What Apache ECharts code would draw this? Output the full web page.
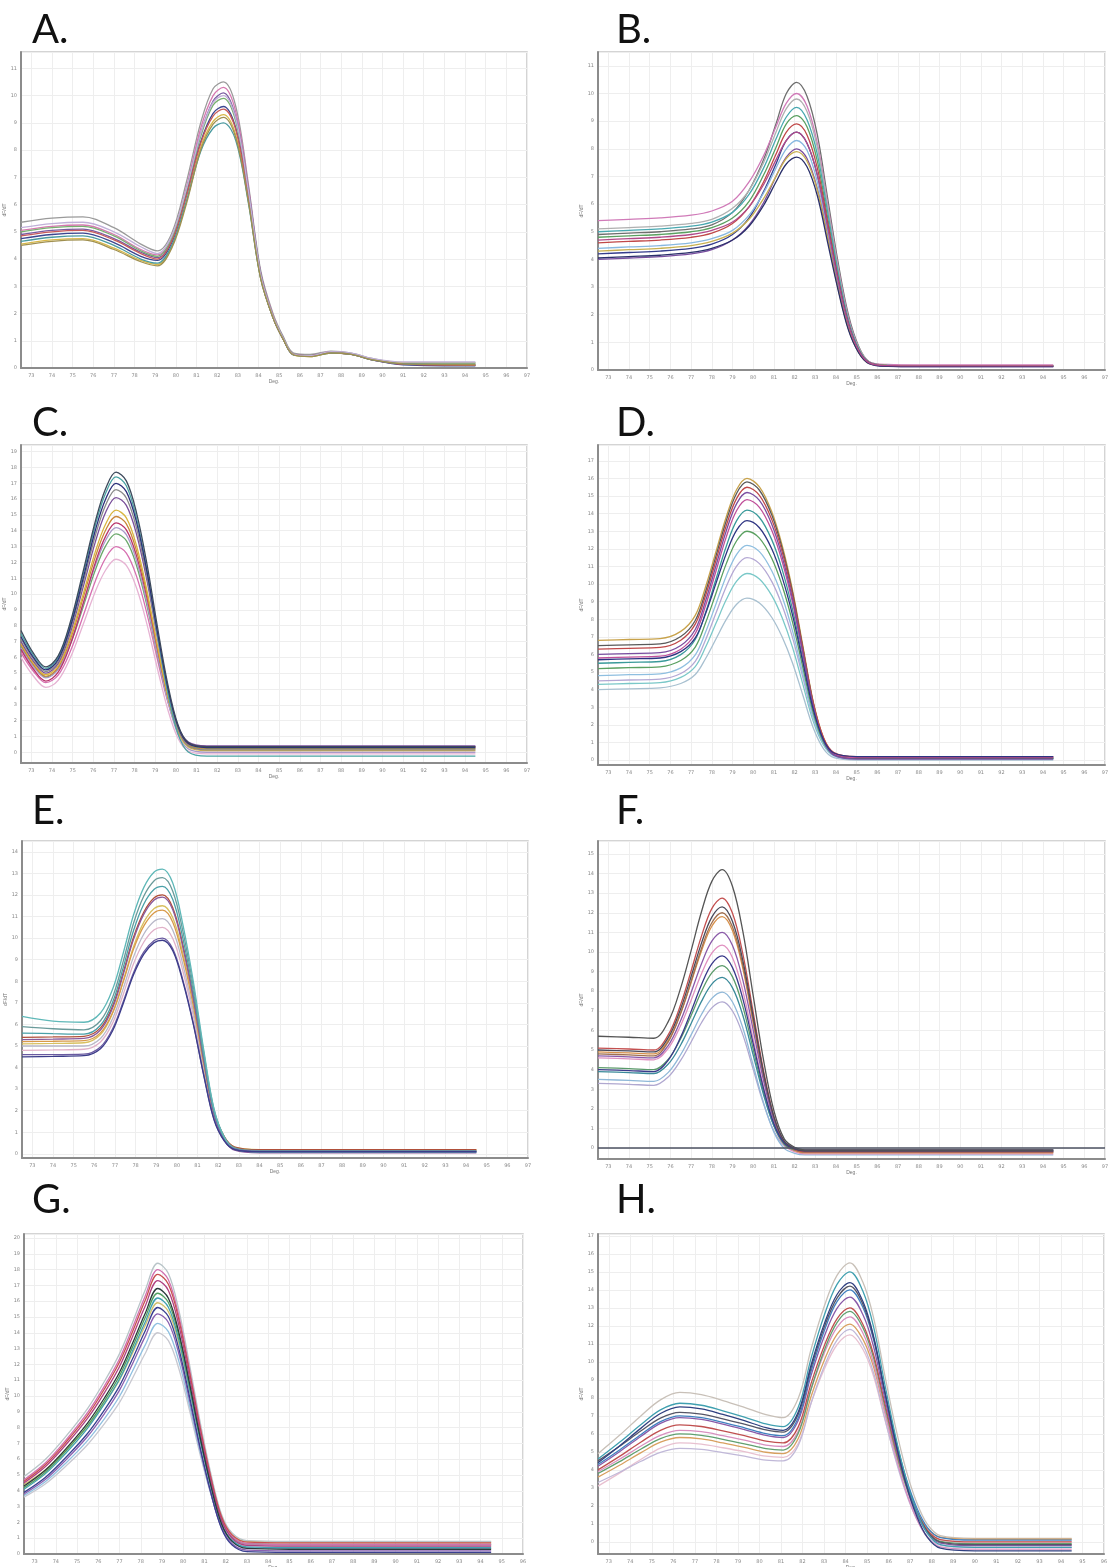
<!DOCTYPE html>
<html>
<head>
<meta charset="utf-8">
<script src="https://cdn.jsdelivr.net/npm/echarts@6/dist/echarts.min.js"></script>
<style>
  html, body { margin: 0; padding: 0; background: #fff; }
  #main { width: 1109px; height: 1567px; }
</style>
</head>
<body>
<div id="main"></div>
<script>
// melt curve panels A-H (dF/dT vs Deg.)
const panelNames = ['A.', 'B.', 'C.', 'D.', 'E.', 'F.', 'G.', 'H.'];

// ---- A ----
const tempsA = [72.5, 74, 75.5, 77, 78.3, 79.1, 79.8, 80.5, 81.2, 81.8, 82.3, 82.9, 83.5, 84.1, 84.7, 85.2, 85.7, 86.5, 87.5, 88.5, 89.5, 91, 94.5];
const curvesA = [
  [5.35, 5.5, 5.55, 5.15, 4.55, 4.3, 4.95, 6.8, 9.0, 10.25, 10.5, 9.6, 6.8, 3.6, 2.0, 1.15, 0.55, 0.5, 0.62, 0.55, 0.35, 0.18, 0.15],
  [5.05, 5.2, 5.25, 4.9, 4.35, 4.15, 4.8, 6.6, 8.8, 10.0, 10.3, 9.4, 6.7, 3.5, 1.95, 1.1, 0.5, 0.45, 0.6, 0.52, 0.32, 0.15, 0.12],
  [4.9, 5.05, 5.1, 4.75, 4.25, 4.05, 4.7, 6.5, 8.6, 9.8, 10.1, 9.2, 6.6, 3.5, 1.9, 1.1, 0.5, 0.45, 0.58, 0.52, 0.3, 0.14, 0.1],
  [5.0, 5.15, 5.2, 4.85, 4.3, 4.1, 4.75, 6.45, 8.5, 9.65, 9.9, 9.05, 6.5, 3.45, 1.9, 1.1, 0.5, 0.45, 0.58, 0.52, 0.32, 0.2, 0.2],
  [4.75, 4.9, 4.95, 4.6, 4.1, 3.95, 4.6, 6.3, 8.3, 9.35, 9.6, 8.8, 6.3, 3.35, 1.85, 1.05, 0.48, 0.45, 0.56, 0.5, 0.3, 0.12, 0.08],
  [4.55, 4.7, 4.75, 4.4, 3.95, 3.8, 4.45, 6.1, 8.1, 9.05, 9.3, 8.55, 6.2, 3.3, 1.85, 1.05, 0.48, 0.42, 0.55, 0.5, 0.32, 0.2, 0.18],
  [4.85, 5.0, 5.05, 4.7, 4.2, 4.0, 4.65, 6.3, 8.25, 9.25, 9.5, 8.75, 6.3, 3.35, 1.85, 1.05, 0.5, 0.45, 0.56, 0.5, 0.3, 0.14, 0.1],
  [4.65, 4.8, 4.85, 4.5, 4.0, 3.85, 4.5, 6.1, 7.95, 8.8, 9.0, 8.35, 6.1, 3.3, 1.85, 1.05, 0.48, 0.43, 0.55, 0.5, 0.3, 0.16, 0.14],
  [5.15, 5.3, 5.35, 5.0, 4.45, 4.2, 4.85, 6.55, 8.6, 9.75, 10.0, 9.15, 6.55, 3.45, 1.9, 1.1, 0.5, 0.45, 0.6, 0.55, 0.35, 0.22, 0.22],
  [4.5, 4.65, 4.7, 4.35, 3.9, 3.75, 4.4, 6.0, 8.0, 8.95, 9.2, 8.45, 6.15, 3.3, 1.85, 1.05, 0.48, 0.42, 0.55, 0.5, 0.3, 0.15, 0.12]
];
const colorsA = ['#9a9a9a', '#d678b0', '#7a5aa0', '#78b070', '#3c4690', '#d8b848', '#c85a5a', '#4a9aa0', '#c0b0d8', '#a09050'];

// ---- B ----
const tempsB = [72.5, 74, 75.5, 77, 78, 79, 79.8, 80.5, 81.1, 81.6, 82.1, 82.6, 83.1, 83.6, 84.1, 84.6, 85.1, 85.6, 86.5, 88, 91, 94.5];
const curvesB = [
  [4.9, 4.95, 5.0, 5.1, 5.25, 5.7, 6.5, 7.6, 8.9, 10.0, 10.4, 9.9, 8.5, 6.2, 3.9, 2.0, 0.85, 0.3, 0.18, 0.16, 0.16, 0.16],
  [5.4, 5.45, 5.5, 5.6, 5.75, 6.1, 6.8, 7.75, 8.8, 9.65, 10.0, 9.55, 8.2, 6.0, 3.75, 1.9, 0.8, 0.3, 0.2, 0.18, 0.18, 0.18],
  [5.1, 5.15, 5.2, 5.3, 5.45, 5.85, 6.5, 7.5, 8.6, 9.45, 9.8, 9.35, 8.05, 5.9, 3.7, 1.85, 0.8, 0.3, 0.17, 0.15, 0.15, 0.15],
  [4.8, 4.85, 4.9, 5.0, 5.15, 5.5, 6.1, 7.05, 8.05, 8.9, 9.2, 8.8, 7.55, 5.5, 3.45, 1.75, 0.75, 0.28, 0.16, 0.14, 0.14, 0.14],
  [5.0, 5.05, 5.1, 5.2, 5.35, 5.7, 6.35, 7.3, 8.35, 9.15, 9.5, 9.05, 7.8, 5.7, 3.55, 1.8, 0.75, 0.28, 0.17, 0.15, 0.15, 0.15],
  [4.6, 4.65, 4.7, 4.8, 4.95, 5.3, 5.9, 6.8, 7.8, 8.6, 8.9, 8.5, 7.3, 5.35, 3.35, 1.7, 0.7, 0.27, 0.16, 0.14, 0.14, 0.14],
  [4.2, 4.25, 4.3, 4.4, 4.55, 4.9, 5.5, 6.45, 7.45, 8.3, 8.6, 8.2, 7.05, 5.15, 3.25, 1.65, 0.7, 0.26, 0.15, 0.13, 0.13, 0.13],
  [4.4, 4.45, 4.5, 4.6, 4.75, 5.05, 5.6, 6.4, 7.3, 8.0, 8.3, 7.95, 6.8, 5.0, 3.1, 1.6, 0.66, 0.25, 0.16, 0.15, 0.15, 0.15],
  [4.0, 4.05, 4.1, 4.2, 4.35, 4.7, 5.25, 6.05, 7.0, 7.7, 8.0, 7.65, 6.55, 4.8, 3.0, 1.5, 0.64, 0.24, 0.14, 0.12, 0.12, 0.12],
  [4.3, 4.35, 4.4, 4.5, 4.65, 4.95, 5.45, 6.2, 7.0, 7.65, 7.9, 7.55, 6.5, 4.75, 2.95, 1.5, 0.63, 0.24, 0.16, 0.15, 0.15, 0.15],
  [4.05, 4.1, 4.15, 4.25, 4.4, 4.7, 5.2, 5.95, 6.8, 7.45, 7.7, 7.35, 6.3, 4.6, 2.9, 1.45, 0.62, 0.23, 0.13, 0.12, 0.12, 0.12],
  [4.7, 4.75, 4.8, 4.9, 5.05, 5.35, 5.9, 6.7, 7.6, 8.3, 8.6, 8.2, 7.05, 5.15, 3.25, 1.65, 0.7, 0.26, 0.16, 0.15, 0.15, 0.15]
];
const colorsB = ['#6e6e6e', '#d07ab8', '#b0b0b0', '#5aa060', '#48a8b0', '#c04848', '#343c8c', '#88b8e0', '#7a4ea0', '#c8b050', '#2a2f6a', '#b04a8a'];

// ---- C ----
const tempsC = [72.5, 73.1, 73.7, 74.3, 74.9, 75.5, 76.1, 76.6, 77.1, 77.6, 78.1, 78.6, 79.1, 79.6, 80.1, 80.6, 81.5, 83, 86, 90, 94.5];
const curvesC = [
  [6.0, 4.82, 4.1, 4.55, 6.0, 8.04, 10.16, 11.52, 12.2, 11.81, 10.36, 8.08, 5.31, 2.73, 0.88, 0.08, -0.1, -0.1, -0.1, -0.1, -0.1],
  [6.3, 5.12, 4.4, 4.88, 6.41, 8.58, 10.83, 12.28, 13.0, 12.59, 11.1, 8.75, 5.89, 3.22, 1.32, 0.49, 0.3, 0.3, 0.3, 0.3, 0.3],
  [6.7, 5.49, 4.75, 5.26, 6.87, 9.15, 11.52, 13.04, 13.8, 13.37, 11.77, 9.26, 6.21, 3.37, 1.33, 0.45, 0.25, 0.25, 0.25, 0.25, 0.25],
  [6.6, 5.42, 4.7, 5.23, 6.92, 9.32, 11.81, 13.4, 14.2, 13.75, 12.07, 9.44, 6.25, 3.27, 1.14, 0.21, 0, 0, 0, 0, 0],
  [6.5, 5.26, 4.5, 5.06, 6.84, 9.36, 11.98, 13.66, 14.5, 14.05, 12.38, 9.76, 6.58, 3.6, 1.48, 0.56, 0.35, 0.35, 0.35, 0.35, 0.35],
  [6.8, 5.56, 4.8, 5.37, 7.16, 9.71, 12.35, 14.05, 14.9, 14.43, 12.7, 9.98, 6.67, 3.58, 1.38, 0.42, 0.2, 0.2, 0.2, 0.2, 0.2],
  [6.9, 5.66, 4.9, 5.48, 7.33, 9.95, 12.68, 14.43, 15.3, 14.81, 13.02, 10.21, 6.79, 3.6, 1.32, 0.33, 0.1, 0.1, 0.1, 0.1, 0.1],
  [7.0, 5.76, 5.0, 5.62, 7.6, 10.39, 13.3, 15.17, 16.1, 15.6, 13.75, 10.84, 7.31, 4.01, 1.66, 0.64, 0.4, 0.4, 0.4, 0.4, 0.4],
  [7.2, 5.9, 5.1, 5.74, 7.79, 10.69, 13.7, 15.63, 16.6, 16.07, 14.13, 11.09, 7.39, 3.93, 1.47, 0.4, 0.15, 0.15, 0.15, 0.15, 0.15],
  [7.5, 6.14, 5.3, 5.98, 8.13, 11.18, 14.35, 16.38, 17.4, 16.84, 14.75, 11.49, 7.52, 3.81, 1.16, 0.01, -0.25, -0.25, -0.25, -0.25, -0.25],
  [7.3, 6.0, 5.2, 5.86, 7.96, 10.93, 14.03, 16.01, 17.0, 16.47, 14.5, 11.4, 7.65, 4.14, 1.64, 0.55, 0.3, 0.3, 0.3, 0.3, 0.3],
  [7.7, 6.27, 5.4, 6.09, 8.28, 11.38, 14.6, 16.67, 17.7, 17.15, 15.1, 11.89, 7.98, 4.34, 1.74, 0.61, 0.35, 0.35, 0.35, 0.35, 0.35]
];
const colorsC = ['#e6b3d3', '#d66fb0', '#6aa86a', '#a99ac9', '#b8336a', '#c9873a', '#d8b540', '#7a4f9a', '#8a8a8a', '#4aa3a3', '#2c2f7a', '#3d4a5c'];

// ---- D ----
const tempsD = [72.5, 74, 75.5, 76.5, 77.2, 77.7, 78.2, 78.7, 79.2, 79.7, 80.3, 80.9, 81.4, 81.9, 82.4, 82.9, 83.4, 83.9, 85, 88, 91, 94.5];
const curvesD = [
  [4.0, 4.05, 4.1, 4.35, 4.86, 5.77, 6.88, 7.99, 8.85, 9.2, 8.92, 8.1, 6.99, 5.52, 3.68, 1.84, 0.64, 0.14, 0, 0, 0, 0],
  [4.3, 4.35, 4.4, 4.7, 5.31, 6.42, 7.77, 9.12, 10.17, 10.6, 10.29, 9.34, 8.08, 6.4, 4.3, 2.2, 0.84, 0.26, 0.1, 0.1, 0.1, 0.1],
  [4.5, 4.55, 4.6, 4.92, 5.61, 6.84, 8.35, 9.86, 11.02, 11.5, 11.16, 10.14, 8.78, 6.96, 4.69, 2.42, 0.94, 0.32, 0.15, 0.15, 0.15, 0.15],
  [4.8, 4.85, 4.9, 5.24, 5.97, 7.27, 8.87, 10.46, 11.69, 12.2, 11.84, 10.74, 9.28, 7.34, 4.91, 2.48, 0.9, 0.23, 0.05, 0.05, 0.05, 0.05],
  [6.8, 6.85, 6.9, 7.31, 8.22, 9.85, 11.84, 13.83, 15.37, 16.0, 15.52, 14.1, 12.2, 9.66, 6.49, 3.32, 1.26, 0.39, 0.15, 0.15, 0.15, 0.15],
  [5.2, 5.25, 5.3, 5.66, 6.42, 7.8, 9.48, 11.16, 12.46, 13.0, 12.61, 11.45, 9.9, 7.84, 5.26, 2.68, 1.0, 0.29, 0.1, 0.1, 0.1, 0.1],
  [5.5, 5.55, 5.6, 5.99, 6.85, 8.39, 10.27, 12.15, 13.6, 14.2, 13.78, 12.51, 10.82, 8.56, 5.74, 2.92, 1.09, 0.31, 0.1, 0.1, 0.1, 0.1],
  [6.5, 6.55, 6.6, 7.02, 7.93, 9.58, 11.59, 13.6, 15.16, 15.8, 15.33, 13.92, 12.03, 9.52, 6.38, 3.24, 1.2, 0.34, 0.1, 0.1, 0.1, 0.1],
  [5.8, 5.85, 5.9, 6.3, 7.19, 8.78, 10.73, 12.68, 14.18, 14.8, 14.36, 13.04, 11.28, 8.94, 6.01, 3.08, 1.18, 0.37, 0.15, 0.15, 0.15, 0.15],
  [6.3, 6.35, 6.4, 6.81, 7.72, 9.35, 11.34, 13.33, 14.87, 15.5, 15.04, 13.66, 11.83, 9.38, 6.32, 3.26, 1.27, 0.43, 0.2, 0.2, 0.2, 0.2],
  [6.0, 6.05, 6.1, 6.51, 7.42, 9.05, 11.04, 13.03, 14.57, 15.2, 14.75, 13.38, 11.56, 9.14, 6.11, 3.08, 1.11, 0.28, 0.05, 0.05, 0.05, 0.05],
  [5.7, 5.75, 5.8, 6.16, 6.94, 8.33, 10.04, 11.74, 13.06, 13.6, 13.2, 11.99, 10.38, 8.24, 5.56, 2.88, 1.14, 0.4, 0.2, 0.2, 0.2, 0.2]
];
const colorsD = ['#a8c0d0', '#7ac8c8', '#b4a8d4', '#8fbfe0', '#c8a24a', '#5aa060', '#3a9a9a', '#5a5a5a', '#c0509a', '#c04848', '#7a4ea0', '#2e3482'];

// ---- E ----
const tempsE = [72.5, 74, 75.5, 76.3, 76.9, 77.4, 77.9, 78.4, 78.9, 79.3, 79.8, 80.3, 80.8, 81.3, 81.8, 82.3, 82.8, 84, 87, 91, 94.5];
const curvesE = [
  [4.8, 4.82, 4.85, 5.19, 6.09, 7.39, 8.81, 9.82, 10.39, 10.5, 9.98, 8.43, 6.36, 3.88, 1.7, 0.67, 0.25, 0.15, 0.15, 0.15, 0.15],
  [5.0, 5.0, 5.0, 5.35, 6.3, 7.66, 9.13, 10.19, 10.78, 10.9, 10.36, 8.74, 6.58, 3.99, 1.72, 0.64, 0.21, 0.1, 0.1, 0.1, 0.1],
  [5.1, 5.12, 5.15, 5.53, 6.55, 8.01, 9.6, 10.74, 11.37, 11.5, 10.94, 9.24, 6.98, 4.27, 1.9, 0.77, 0.31, 0.2, 0.2, 0.2, 0.2],
  [5.2, 5.22, 5.25, 5.61, 6.58, 7.97, 9.49, 10.57, 11.18, 11.3, 10.74, 9.07, 6.84, 4.16, 1.82, 0.71, 0.26, 0.15, 0.15, 0.15, 0.15],
  [5.4, 5.42, 5.45, 5.84, 6.89, 8.4, 10.04, 11.21, 11.87, 12.0, 11.41, 9.64, 7.28, 4.45, 1.97, 0.79, 0.32, 0.2, 0.2, 0.2, 0.2],
  [5.3, 5.32, 5.35, 5.74, 6.79, 8.3, 9.94, 11.11, 11.77, 11.9, 11.31, 9.53, 7.16, 4.32, 1.83, 0.64, 0.17, 0.05, 0.05, 0.05, 0.05],
  [5.6, 5.57, 5.55, 5.96, 7.06, 8.63, 10.35, 11.58, 12.26, 12.4, 11.79, 9.94, 7.48, 4.53, 1.95, 0.72, 0.22, 0.1, 0.1, 0.1, 0.1],
  [5.9, 5.8, 5.75, 6.17, 7.3, 8.92, 10.69, 11.95, 12.66, 12.8, 12.17, 10.27, 7.74, 4.7, 2.05, 0.78, 0.28, 0.15, 0.15, 0.15, 0.15],
  [6.37, 6.15, 6.1, 6.53, 7.66, 9.3, 11.07, 12.35, 13.06, 13.2, 12.55, 10.58, 7.96, 4.82, 2.07, 0.76, 0.23, 0.1, 0.1, 0.1, 0.1],
  [4.6, 4.6, 4.62, 4.95, 5.82, 7.05, 8.4, 9.36, 9.89, 10.0, 9.5, 8.02, 6.04, 3.67, 1.6, 0.62, 0.22, 0.12, 0.12, 0.12, 0.12],
  [4.5, 4.52, 4.55, 4.87, 5.73, 6.96, 8.3, 9.26, 9.79, 9.9, 9.41, 7.94, 5.98, 3.63, 1.57, 0.59, 0.2, 0.1, 0.1, 0.1, 0.1]
];
const colorsE = ['#e0b0c8', '#b8b8c8', '#d8c060', '#d89a4a', '#b0503a', '#8a5a9a', '#4aa0a8', '#6a9a9a', '#5fb8b8', '#6a5aa0', '#3c3c8a'];

// ---- F ----
const tempsF = [72.5, 74, 75.2, 75.9, 76.5, 77.0, 77.5, 78.0, 78.5, 79.0, 79.5, 80.0, 80.5, 81.0, 81.5, 82.0, 82.5, 84, 88, 91, 94.5];
const curvesF = [
  [3.3, 3.25, 3.2, 3.63, 4.48, 5.41, 6.39, 7.15, 7.45, 6.99, 5.77, 4.01, 2.25, 0.87, 0.11, -0.12, -0.2, -0.2, -0.2, -0.2, -0.2],
  [3.5, 3.45, 3.4, 3.86, 4.77, 5.77, 6.81, 7.63, 7.95, 7.45, 6.12, 4.22, 2.31, 0.81, -0.02, -0.27, -0.35, -0.35, -0.35, -0.35, -0.35],
  [4.6, 4.55, 4.5, 5.09, 6.26, 7.54, 8.89, 9.94, 10.35, 9.71, 8.01, 5.56, 3.11, 1.19, 0.13, -0.19, -0.3, -0.3, -0.3, -0.3, -0.3],
  [4.9, 4.85, 4.8, 5.5, 6.9, 8.44, 10.05, 11.31, 11.8, 11.08, 9.15, 6.38, 3.61, 1.44, 0.23, -0.13, -0.25, -0.25, -0.25, -0.25, -0.25],
  [4.1, 4.05, 4.0, 4.53, 5.59, 6.76, 7.98, 8.93, 9.3, 8.73, 7.21, 5.03, 2.84, 1.13, 0.18, -0.1, -0.2, -0.2, -0.2, -0.2, -0.2],
  [3.9, 3.85, 3.8, 4.29, 5.27, 6.35, 7.48, 8.36, 8.7, 8.17, 6.76, 4.74, 2.72, 1.13, 0.25, -0.01, -0.1, -0.1, -0.1, -0.1, -0.1],
  [4.8, 4.75, 4.7, 5.43, 6.89, 8.5, 10.18, 11.49, 12.0, 11.27, 9.32, 6.51, 3.7, 1.51, 0.29, -0.08, -0.2, -0.2, -0.2, -0.2, -0.2],
  [4.7, 4.65, 4.6, 5.24, 6.52, 7.93, 9.4, 10.55, 11.0, 10.33, 8.56, 6.01, 3.45, 1.45, 0.34, 0.01, -0.1, -0.1, -0.1, -0.1, -0.1],
  [5.1, 5.05, 5.0, 5.78, 7.33, 9.03, 10.81, 12.21, 12.75, 11.97, 9.9, 6.92, 3.94, 1.61, 0.32, -0.07, -0.2, -0.2, -0.2, -0.2, -0.2],
  [4.0, 3.95, 3.9, 4.49, 5.67, 6.97, 8.33, 9.39, 9.8, 9.2, 7.61, 5.32, 3.03, 1.24, 0.25, -0.05, -0.15, -0.15, -0.15, -0.15, -0.15],
  [5.0, 4.95, 4.9, 5.64, 7.12, 8.75, 10.45, 11.78, 12.3, 11.55, 9.56, 6.7, 3.83, 1.59, 0.35, -0.03, -0.15, -0.15, -0.15, -0.15, -0.15],
  [5.7, 5.65, 5.6, 6.46, 8.18, 10.07, 12.05, 13.6, 14.2, 13.34, 11.05, 7.77, 4.48, 1.9, 0.47, 0.04, -0.1, -0.1, -0.1, -0.1, -0.1]
];
const colorsF = ['#b0a8d0', '#90b8d8', '#e090c0', '#d8904a', '#5a9a6a', '#3a8a9a', '#a07050', '#8a5aa8', '#c45050', '#3a3a8a', '#4a4a5a', '#555555'];

// ---- G ----
const tempsG = [72.5, 73.5, 74.5, 75.5, 76.3, 77.0, 77.6, 78.2, 78.8, 79.3, 79.8, 80.3, 80.8, 81.3, 81.8, 82.3, 83, 85, 89, 94.5];
const curvesG = [
  [3.6, 4.43, 5.6, 6.93, 8.26, 9.59, 11.09, 12.67, 14.0, 13.5, 11.69, 9.06, 6.26, 3.79, 1.82, 0.91, 0.55, 0.5, 0.5, 0.5],
  [3.7, 4.57, 5.79, 7.19, 8.58, 9.98, 11.55, 13.2, 14.6, 14.07, 12.16, 9.38, 6.43, 3.83, 1.75, 0.78, 0.4, 0.35, 0.35, 0.35],
  [4.4, 5.32, 6.61, 8.08, 9.55, 11.02, 12.68, 14.43, 15.9, 15.34, 13.31, 10.36, 7.22, 4.45, 2.23, 1.2, 0.8, 0.75, 0.75, 0.75],
  [4.9, 5.98, 7.49, 9.22, 10.95, 12.68, 14.62, 16.67, 18.4, 17.75, 15.39, 11.96, 8.32, 5.09, 2.52, 1.33, 0.85, 0.8, 0.8, 0.8],
  [3.8, 4.71, 5.99, 7.45, 8.91, 10.37, 12.01, 13.74, 15.2, 14.65, 12.64, 9.71, 6.61, 3.86, 1.67, 0.65, 0.25, 0.2, 0.2, 0.2],
  [4.1, 5.07, 6.42, 7.97, 9.52, 11.07, 12.81, 14.65, 16.2, 15.62, 13.5, 10.42, 7.15, 4.26, 1.95, 0.87, 0.45, 0.4, 0.4, 0.4],
  [4.2, 5.18, 6.56, 8.14, 9.71, 11.28, 13.06, 14.93, 16.5, 15.91, 13.78, 10.68, 7.39, 4.48, 2.16, 1.08, 0.65, 0.6, 0.6, 0.6],
  [4.7, 5.76, 7.25, 8.96, 10.66, 12.36, 14.28, 16.3, 18.0, 17.36, 15.02, 11.63, 8.03, 4.85, 2.31, 1.12, 0.65, 0.6, 0.6, 0.6],
  [4.6, 5.65, 7.12, 8.79, 10.47, 12.15, 14.03, 16.02, 17.7, 17.07, 14.79, 11.48, 7.96, 4.85, 2.37, 1.21, 0.75, 0.7, 0.7, 0.7],
  [4.5, 5.52, 6.96, 8.6, 10.23, 11.87, 13.72, 15.66, 17.3, 16.68, 14.43, 11.15, 7.67, 4.6, 2.15, 1.0, 0.55, 0.5, 0.5, 0.5],
  [3.9, 4.84, 6.15, 7.64, 9.14, 10.64, 12.32, 14.1, 15.6, 15.03, 12.95, 9.93, 6.72, 3.88, 1.62, 0.57, 0.15, 0.1, 0.1, 0.1],
  [4.3, 5.3, 6.7, 8.3, 9.9, 11.5, 13.3, 15.2, 16.8, 16.19, 13.98, 10.76, 7.35, 4.33, 1.92, 0.8, 0.35, 0.3, 0.3, 0.3]
];
const colorsG = ['#c8c8d0', '#90c0e0', '#d0c070', '#b8c4c8', '#8a60b0', '#40a0b0', '#50a060', '#d070b0', '#c85050', '#b04080', '#3a4090', '#2a3a3a'];

// ---- H ----
const tempsH = [72.5, 73.5, 74.5, 75.4, 76.3, 77.3, 78.3, 79.3, 80.3, 81.1, 81.8, 82.4, 83.0, 83.6, 84.2, 84.8, 85.3, 85.8, 86.3, 86.8, 87.3, 87.8, 88.4, 90, 94.5];
const curvesH = [
  [4.9, 5.92, 7.01, 7.89, 8.3, 8.18, 7.85, 7.47, 7.07, 6.9, 7.98, 10.72, 13.06, 14.8, 15.5, 14.43, 12.44, 9.38, 6.47, 4.03, 2.19, 0.97, 0.35, 0.2, 0.2],
  [3.1, 3.82, 4.59, 5.21, 5.5, 5.43, 5.23, 5.01, 4.76, 4.7, 5.47, 7.71, 9.57, 10.95, 11.5, 10.7, 9.2, 6.9, 4.72, 2.88, 1.5, 0.58, 0.12, 0, 0],
  [3.3, 3.87, 4.48, 4.97, 5.2, 5.14, 4.96, 4.76, 4.54, 4.5, 5.36, 7.73, 9.73, 11.21, 11.8, 10.95, 9.38, 6.96, 4.66, 2.73, 1.27, 0.31, -0.18, -0.3, -0.3],
  [3.6, 4.26, 4.96, 5.54, 5.8, 5.72, 5.5, 5.25, 4.98, 4.9, 5.74, 8.09, 10.06, 11.52, 12.1, 11.26, 9.71, 7.32, 5.05, 3.14, 1.7, 0.75, 0.27, 0.15, 0.15],
  [3.9, 4.59, 5.33, 5.92, 6.2, 6.12, 5.9, 5.65, 5.38, 5.3, 6.14, 8.49, 10.46, 11.92, 12.5, 11.6, 9.92, 7.34, 4.89, 2.83, 1.28, 0.25, -0.27, -0.4, -0.4],
  [3.8, 4.46, 5.16, 5.74, 6.0, 5.92, 5.7, 5.45, 5.18, 5.1, 6.03, 8.51, 10.62, 12.18, 12.8, 11.9, 10.22, 7.64, 5.19, 3.13, 1.58, 0.55, 0.03, -0.1, -0.1],
  [4.0, 4.75, 5.55, 6.2, 6.5, 6.41, 6.17, 5.9, 5.6, 5.5, 6.39, 8.82, 10.87, 12.39, 13.0, 12.09, 10.4, 7.8, 5.33, 3.25, 1.69, 0.65, 0.13, 0, 0],
  [4.2, 5.01, 5.87, 6.58, 6.9, 6.8, 6.54, 6.24, 5.92, 5.8, 6.74, 9.26, 11.39, 12.97, 13.6, 12.63, 10.84, 8.08, 5.46, 3.25, 1.59, 0.49, -0.06, -0.2, -0.2],
  [4.3, 5.11, 5.97, 6.68, 7.0, 6.9, 6.64, 6.34, 6.02, 5.9, 6.89, 9.49, 11.7, 13.34, 14.0, 13.03, 11.22, 8.44, 5.8, 3.58, 1.91, 0.8, 0.24, 0.1, 0.1],
  [4.5, 5.31, 6.17, 6.88, 7.2, 7.1, 6.84, 6.54, 6.22, 6.1, 7.09, 9.69, 11.9, 13.54, 14.2, 13.2, 11.33, 8.46, 5.73, 3.44, 1.72, 0.57, -0.01, -0.15, -0.15],
  [4.6, 5.53, 6.52, 7.33, 7.7, 7.59, 7.28, 6.93, 6.55, 6.4, 7.48, 10.22, 12.56, 14.3, 15.0, 13.93, 11.94, 8.88, 5.97, 3.53, 1.69, 0.47, -0.15, -0.3, -0.3],
  [4.4, 5.33, 6.32, 7.13, 7.5, 7.39, 7.08, 6.73, 6.35, 6.2, 7.21, 9.84, 12.08, 13.74, 14.4, 13.36, 11.42, 8.44, 5.61, 3.23, 1.44, 0.25, -0.35, -0.5, -0.5]
];
const colorsH = ['#c8c0b8', '#e8c0d0', '#c0b8d8', '#d8a060', '#d890c0', '#60a070', '#c05050', '#8a5aa8', '#4080c0', '#555566', '#40a0b0', '#304080'];

// axis ranges (tick units)
const yMin = [0, 0, -0.68, -0.28, -0.19, -0.56, 0, -0.67];
const yMax = [11.6, 11.5, 19.42, 17.9, 14.5, 15.66, 20.25, 17.1];
const xMin = 72.5;
const xMax = [97, 97, 97, 97, 97, 97, 96, 96];

const temps = [tempsA, tempsB, tempsC, tempsD, tempsE, tempsF, tempsG, tempsH];
const curves = [curvesA, curvesB, curvesC, curvesD, curvesE, curvesF, curvesG, curvesH];
const colors = [colorsA, colorsB, colorsC, colorsD, colorsE, colorsF, colorsG, colorsH];

// pixel layout of each plot box and its letter
const boxes = [
  { left: 21, top: 52, width: 506, height: 316 },
  { left: 598, top: 52, width: 507, height: 318 },
  { left: 21, top: 445, width: 506, height: 318 },
  { left: 598, top: 445, width: 507, height: 320 },
  { left: 22, top: 841, width: 506, height: 317 },
  { left: 598, top: 841, width: 507, height: 318 },
  { left: 24, top: 1234, width: 499, height: 320 },
  { left: 598, top: 1234, width: 506, height: 320 }
];
const letterPos = [[27, 5], [611, 5], [27, 398], [611, 398], [27, 786], [611, 786], [27, 1175], [611, 1175]];

const chart = echarts.init(document.getElementById('main'), null, { renderer: 'canvas' });

const grid = boxes.map(b => ({
  left: b.left, top: b.top, width: b.width, height: b.height,
  show: true, borderColor: '#c6c6c6', borderWidth: 1.5, backgroundColor: '#fff',
  containLabel: false, outerBoundsMode: 'none'
}));

const tinyLabel = { fontSize: 5, color: '#8a8a8a', fontFamily: 'DejaVu Sans' };

const xAxis = boxes.map((b, i) => ({
  type: 'value', gridIndex: i, min: xMin, max: xMax[i],
  minInterval: 1, maxInterval: 1,
  name: 'Deg.', nameLocation: 'middle', nameGap: 11,
  nameTextStyle: { fontSize: 5, color: '#777' },
  axisLine: { show: true, onZero: false, lineStyle: { color: '#8c8c8c', width: 2 } },
  axisTick: { show: false },
  axisLabel: Object.assign({ margin: 5, showMinLabel: false }, tinyLabel),
  splitLine: { show: true, lineStyle: { color: '#eeeeee', width: 1 } }
}));

const yAxis = boxes.map((b, i) => ({
  type: 'value', gridIndex: i, min: yMin[i], max: yMax[i],
  minInterval: 1, maxInterval: 1,
  name: 'dF/dT', nameLocation: 'middle', nameGap: 11, nameRotate: 90,
  nameTextStyle: { fontSize: 5, color: '#777' },
  axisLine: { show: true, lineStyle: { color: '#8c8c8c', width: 2 } },
  axisTick: { show: false },
  axisLabel: Object.assign({ margin: 4, showMinLabel: yMin[i] === 0, showMaxLabel: false }, tinyLabel),
  splitLine: { show: true, lineStyle: { color: '#eeeeee', width: 1 } }
}));

const series = [];
curves.forEach((set, p) => {
  set.forEach((vals, k) => {
    series.push({
      type: 'line', xAxisIndex: p, yAxisIndex: p,
      data: temps[p].map((t, j) => [t, vals[j]]),
      smooth: 0.35,
      showSymbol: false, symbol: 'none', silent: true,
      lineStyle: { width: 1.3, color: colors[p][k] },
      z: 2
    });
  });
});

// F has a dark baseline at zero
series.push({
  type: 'line', xAxisIndex: 5, yAxisIndex: 5, data: [], silent: true,
  markLine: {
    silent: true, symbol: 'none', label: { show: false },
    lineStyle: { color: '#4b5060', width: 1.5, type: 'solid' },
    data: [{ yAxis: 0 }]
  }
});

const title = panelNames.map((n, i) => ({
  text: n, left: letterPos[i][0], top: letterPos[i][1],
  textStyle: { fontSize: 40, fontWeight: 'normal', color: '#111', fontFamily: 'Lato' }
}));

chart.setOption({
  animation: false,
  backgroundColor: '#fff',
  title: title,
  grid: grid,
  xAxis: xAxis,
  yAxis: yAxis,
  series: series
});
</script>
</body>
</html>
